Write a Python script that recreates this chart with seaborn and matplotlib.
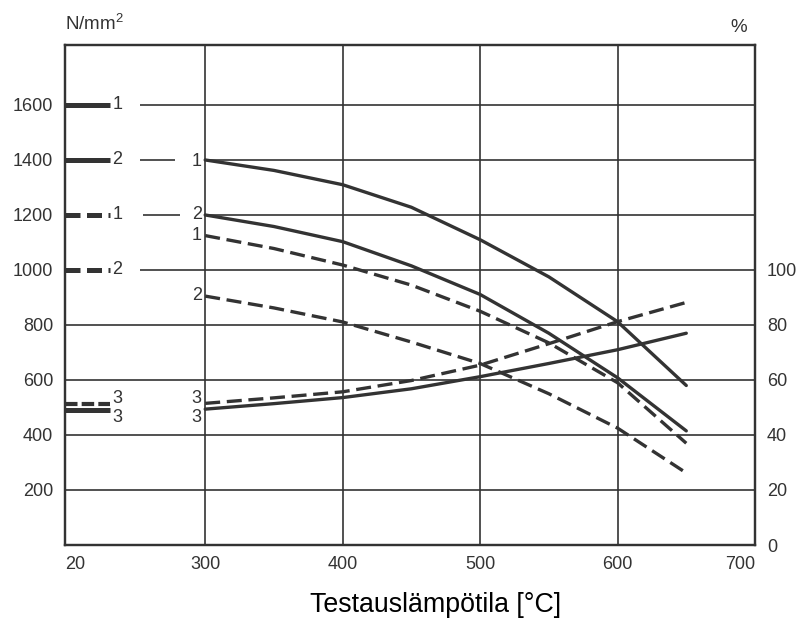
import numpy as np
import pandas as pd
import matplotlib
matplotlib.use("Agg")
import matplotlib.pyplot as plt
import seaborn as sns

# values
temps = [300, 350, 400, 450, 500, 550, 600, 650]
solid1 = [1400, 1362, 1310, 1228, 1110, 975, 812, 580]      # N/mm2
solid2 = [1200, 1158, 1103, 1015, 911, 770, 608, 415]       # N/mm2
dashed1 = [1125, 1078, 1018, 945, 850, 735, 590, 370]       # N/mm2
dashed2 = [905, 862, 811, 738, 660, 550, 425, 262]          # N/mm2
dashed3 = [51.5, 53.5, 55.7, 59.8, 65.4, 73.2, 81.2, 88.2]  # %
solid3 = [49.4, 51.4, 53.6, 56.8, 61.2, 66.0, 71.0, 77.0]   # %

x_ticks = [198, 300, 400, 500, 600, 700]
x_labels = ["20", "300", "400", "500", "600", "700"]
left_ticks = [200, 400, 600, 800, 1000, 1200, 1400, 1600]
right_ticks = [0, 20, 40, 60, 80, 100]

sns.set_style("white")
plt.rcParams['font.family'] = ['Liberation Sans', 'DejaVu Sans']
plt.rcParams['mathtext.fontset'] = 'custom'
plt.rcParams['mathtext.rm'] = 'Liberation Sans'

INK = "#333333"
DASH = (0, (4.5, 2.0))

fig = plt.figure(figsize=(8.04, 6.23), dpi=100)
ax = fig.add_axes([65 / 804, 1 - 545 / 623, 690 / 804, 500 / 623])
ax2 = ax.twinx()

ax.set_xlim(198, 700)
ax.set_ylim(0, 1818)
ax2.set_ylim(0, 181.8)

# grid
for v in [300, 400, 500, 600]:
    ax.axvline(v, color=INK, lw=1.2, zorder=1)
for v in left_ticks:
    ax.hlines(v, 300, 700, color=INK, lw=1.2, zorder=1)
ax.hlines([200, 400, 600, 800], 198, 300, color=INK, lw=1.2, zorder=1)
ax.hlines([1600, 1000], 252.7, 300, color=INK, lw=1.2, zorder=1)
ax.hlines(1400, 252.7, 278, color=INK, lw=1.2, zorder=1)
ax.hlines(1200, 255, 282, color=INK, lw=1.2, zorder=1)

curves = pd.DataFrame({"temp": temps, "s1": solid1, "s2": solid2,
                       "d1": dashed1, "d2": dashed2, "d3": dashed3, "s3": solid3})

lw = 2.4
sns.lineplot(data=curves, x="temp", y="s1", ax=ax, color=INK, lw=lw)
sns.lineplot(data=curves, x="temp", y="s2", ax=ax, color=INK, lw=lw)
sns.lineplot(data=curves, x="temp", y="d1", ax=ax, color=INK, lw=lw, linestyle=DASH)
sns.lineplot(data=curves, x="temp", y="d2", ax=ax, color=INK, lw=lw, linestyle=DASH)
sns.lineplot(data=curves, x="temp", y="d3", ax=ax2, color=INK, lw=lw, linestyle=DASH)
sns.lineplot(data=curves, x="temp", y="s3", ax=ax2, color=INK, lw=lw)

# key stubs at the left
stub_x = [198, 231]
ax.plot(stub_x, [1600, 1600], color=INK, lw=3.6, solid_capstyle="butt")
ax.plot(stub_x, [1400, 1400], color=INK, lw=3.6, solid_capstyle="butt")
ax.plot(stub_x, [1200, 1200], color=INK, lw=3.6, linestyle=(0, (3.0, 1.3)))
ax.plot(stub_x, [1000, 1000], color=INK, lw=3.6, linestyle=(0, (3.0, 1.3)))
ax.plot(stub_x, [512, 512], color=INK, lw=3.0, linestyle=(0, (3.0, 1.0)))
ax.plot(stub_x, [491, 491], color=INK, lw=3.6, solid_capstyle="butt")

fs = 13
for txt, y in [("1", 1600), ("2", 1400), ("1", 1200), ("2", 1000), ("3", 534), ("3", 462)]:
    ax.text(232.5, y, txt, ha="left", va="center", fontsize=fs, color=INK)
for txt, y in [("1", 1395), ("2", 1200), ("1", 1127), ("2", 909), ("3", 534), ("3", 462)]:
    ax.text(297.5, y, txt, ha="right", va="center", fontsize=fs, color=INK)

# axes styling
ax.set_xticks(x_ticks)
ax.set_xticklabels(x_labels)
ax.set_yticks(left_ticks)
ax2.set_yticks(right_ticks)
ax.tick_params(axis="both", length=0, labelsize=fs, labelcolor=INK)
ax.tick_params(axis="x", pad=8)
ax.tick_params(axis="y", pad=8.6)
ax2.tick_params(axis="y", length=0, labelsize=fs, labelcolor=INK, pad=8.6)
labels = ax.get_xticklabels()
labels[0].set_ha("left")
labels[-1].set_ha("right")
ax.set_xlabel("")
ax.set_ylabel("")
ax2.set_ylabel("")
for a in (ax, ax2):
    for s in a.spines.values():
        s.set_visible(True)
        s.set_color(INK)
        s.set_linewidth(1.6)

fig.text(65 / 804, 1 - 30 / 623, r"N/mm$^2$", ha="left", va="baseline", fontsize=13.5, color=INK)
fig.text(739 / 804, 1 - 28 / 623, "%", ha="center", va="center", fontsize=13.5, color=INK)
fig.text(436 / 804, 1 - 605 / 623, "Testauslämpötila [°C]", ha="center", va="center",
         fontsize=19.3, color="black")

fig.savefig("out.png", dpi=100, facecolor="white")
